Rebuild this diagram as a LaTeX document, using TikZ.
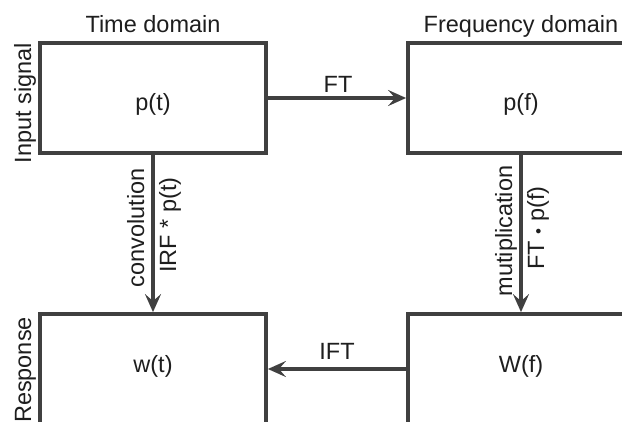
\documentclass[tikz,border=0pt]{standalone}
\usepackage{fontspec}
\setmainfont{Liberation Sans}
\usetikzlibrary{arrows.meta}
\definecolor{linegray}{HTML}{404040}
\definecolor{textgray}{HTML}{1E1E1E}
\begin{document}
\begin{tikzpicture}[x=1pt,y=-1pt,
  every node/.style={font=\fontsize{23.5}{28}\selectfont, text=textgray, inner sep=0pt},
  blockbox/.style={draw=linegray, line width=3.8pt, rectangle, minimum width=226pt, minimum height=110pt},
  flow/.style={draw=linegray, line width=3.6pt, -{Stealth[length=18pt,width=16pt,inset=7pt]}},
  sidelabel/.style={rotate=90, anchor=base},
  txt/.style={anchor=base}]
  \useasboundingbox (0,0) rectangle (622,421);
  \clip (0,0) rectangle (622,421);

  % four blocks (right and lower ones run past the frame)
  \node[blockbox] (pt) at (153,98) {};
  \node[blockbox] (pf) at (521,98) {};
  \node[blockbox] (wt) at (153,369) {};
  \node[blockbox] (wf) at (521,369) {};

  % block contents
  \node[txt] (ptlbl) at (153,110) {p(t)};
  \node[txt] (pflbl) at (521,110) {p(f)};
  \node[txt] (wtlbl) at (153,372) {w(t)};
  \node[txt] (wflbl) at (521,372) {W(f)};

  % column titles and row titles
  \node[txt] (tdom) at (153,32) {Time domain};
  \node[txt] (fdom) at (521,32) {Frequency domain};
  \node[sidelabel] (insig) at (31,103) {Input signal};
  \node[sidelabel] (resp) at (31,370) {Response};

  % transforms between the blocks
  \draw[flow] (pt) -- (pf);
  \draw[flow] (wf) -- (wt);
  \draw[flow] (pt) -- (wt);
  \draw[flow] (pf) -- (wf);

  % connector labels
  \node[txt] (ftlbl) at (338,92) {FT};
  \node[txt] (iftlbl) at (337,359) {IFT};
  \node[sidelabel] (conv) at (144,228) {convolution};
  \node[sidelabel] (irf) at (176,225) {IRF * p(t)};
  \node[sidelabel] (mult) at (512,231) {mutiplication};
  \node[sidelabel] (ftp) at (544,228) {FT {\fontsize{17}{17}\selectfont •} p(f)};
\end{tikzpicture}
\end{document}
